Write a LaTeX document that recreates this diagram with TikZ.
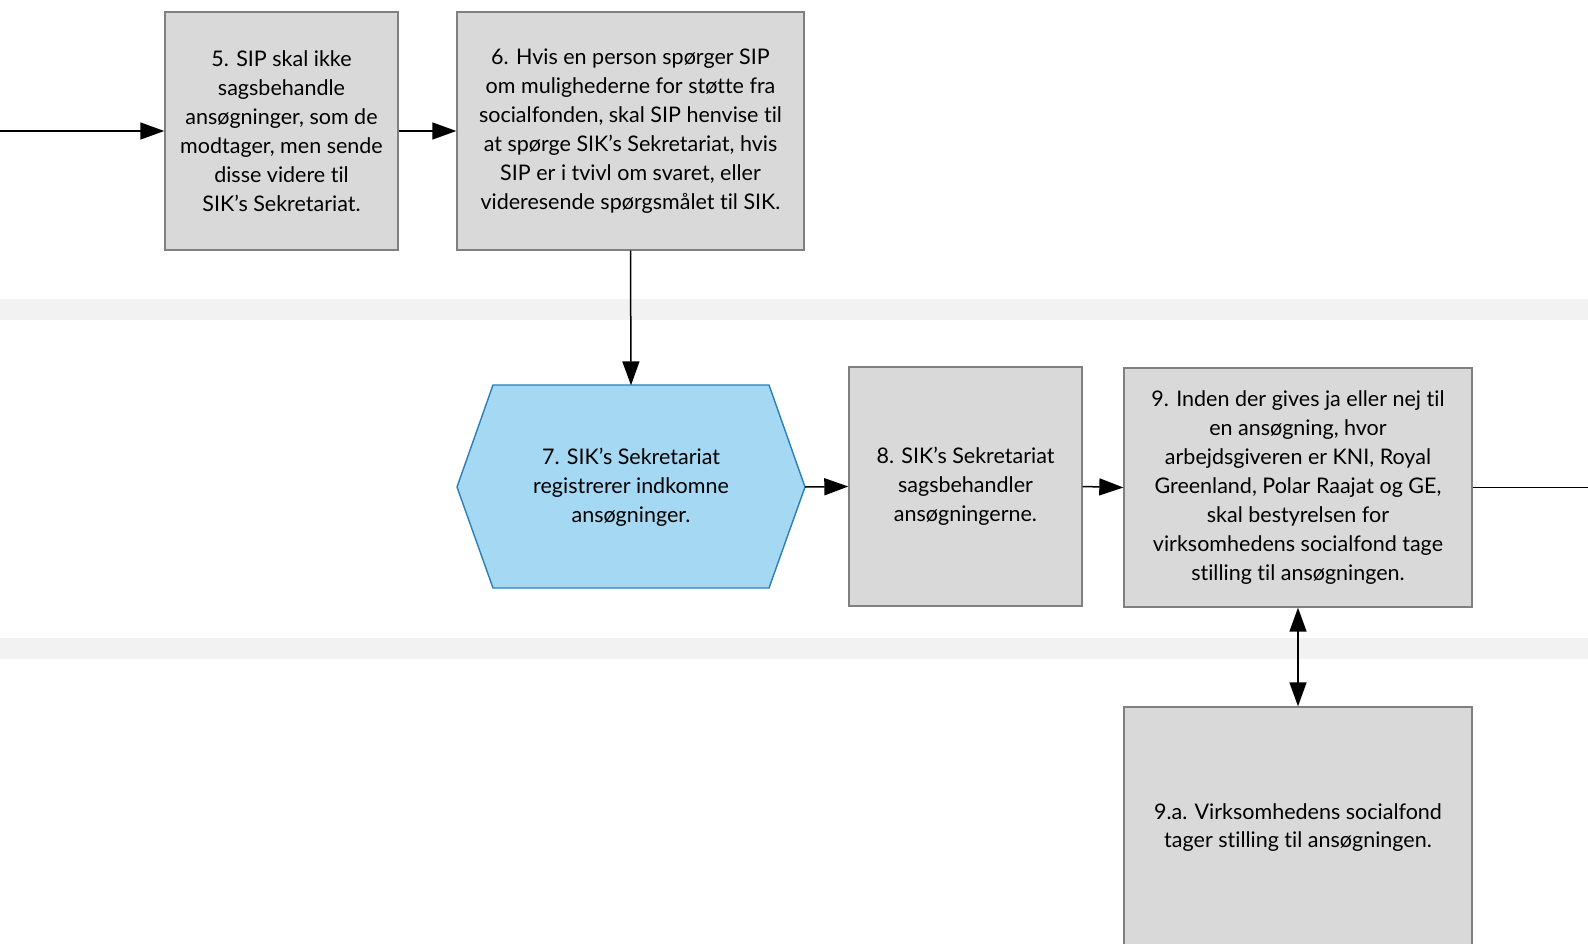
\documentclass[tikz,border=0pt]{standalone}
\usepackage{fontspec}
\setmainfont{Lato}[Ligatures=NoCommon]
\usetikzlibrary{arrows.meta}
\definecolor{boxfill}{HTML}{D9D9D9}
\definecolor{boxline}{HTML}{808080}
\definecolor{hexfill}{HTML}{A5D8F3}
\definecolor{hexline}{HTML}{2A7FB5}
\definecolor{band}{HTML}{F2F2F2}
\tikzset{
  procbox/.style={draw=boxline, fill=boxfill, line width=1.4pt, align=center,
    font=\fontsize{21.5}{28.9}\selectfont, inner sep=0pt},
  conn/.style={line width=1.5pt, -{Triangle[length=24pt,width=17pt]}},
  conn2/.style={line width=1.5pt, {Triangle[length=24pt,width=17pt]}-{Triangle[length=24pt,width=17pt]}},
  plainconn/.style={line width=1.5pt},
}
\begin{document}
\begin{tikzpicture}[x=1pt,y=-1pt]
\useasboundingbox (0,0) rectangle (1588,944);
% lane separators
\fill[band] (0,299) rectangle (1588,320);
\fill[band] (0,638) rectangle (1588,659);
% boxes
\node[procbox, minimum width=233pt, minimum height=238pt] (b5) at (281.5,131)
  {5. SIP skal ikke\\sagsbehandle\\ansøgninger, som de\\modtager, men sende\\disse videre til\\SIK’s Sekretariat.};
\node[procbox, minimum width=347pt, minimum height=238pt] (b6) at (630.5,131)
  {6. Hvis en person spørger SIP\\om mulighederne for støtte fra\\socialfonden, skal SIP henvise til\\at spørge SIK’s Sekretariat, hvis\\SIP er i tvivl om svaret, eller\\videresende spørgsmålet til SIK.};
% hexagon
\fill[hexfill] (493,385) -- (769,385) -- (805,487) -- (769,588) -- (493,588) -- (457,487) -- cycle;
\draw[hexline, line width=1.4pt, line join=miter] (493,385) -- (769,385) -- (805,487) -- (769,588) -- (493,588) -- (457,487) -- cycle;
\node[align=center, font=\fontsize{21.5}{28.9}\selectfont, minimum width=348pt, minimum height=203pt, inner sep=0pt] (h7) at (631,487)
  {7. SIK’s Sekretariat\\registrerer indkomne\\ansøgninger.};
\node[procbox, minimum width=233pt, minimum height=239pt] (b8) at (965.5,486.5)
  {8. SIK’s Sekretariat\\sagsbehandler\\ansøgningerne.};
\node[procbox, minimum width=348pt, minimum height=239pt] (b9) at (1298,487.5)
  {9. Inden der gives ja eller nej til\\en ansøgning, hvor\\arbejdsgiveren er KNI, Royal\\Greenland, Polar Raajat og GE,\\skal bestyrelsen for\\virksomhedens socialfond tage\\stilling til ansøgningen.};
\node[procbox, minimum width=348pt, minimum height=241pt] (b9a) at (1298,827.5)
  {9.a. Virksomhedens socialfond\\tager stilling til ansøgningen.};
% connectors
\coordinate (inL) at (0,131);
\coordinate (outR) at (1588,487.5);
\draw[conn] (inL) -- (b5.west);
\draw[conn] (b5.east) -- (b6.west);
\draw[conn] (b6.south) -- (h7.north);
\draw[conn] (h7.east) -- (b8.west);
\draw[conn] (b8.east) -- (b9.west);
\draw[plainconn] (b9.east) -- (outR);
\draw[conn2] (b9.south) -- (b9a.north);
\end{tikzpicture}
\end{document}
